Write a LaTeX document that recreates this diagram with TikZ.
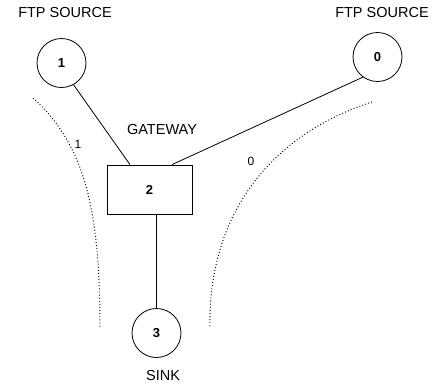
\documentclass[tikz,border=0pt]{standalone}
\usepackage{fontspec}
\setmainfont{Liberation Sans}
\begin{document}
\begin{tikzpicture}[x=1pt,y=-1pt,
  host/.style={draw,circle,line width=0.8pt,minimum size=49pt,inner sep=0pt,font=\fontsize{13}{13}\selectfont\bfseries},
  gw/.style={draw,rectangle,line width=0.8pt,minimum width=85pt,minimum height=49pt,inner sep=0pt,font=\fontsize{13}{13}\selectfont\bfseries},
  lbl/.style={inner sep=0pt,font=\fontsize{14.5}{14.5}\selectfont},
  flowlbl/.style={inner sep=0pt,font=\fontsize{12}{12}\selectfont},
  link/.style={line width=0.8pt},
  flow/.style={line width=1pt,dash pattern=on 0.9pt off 2.2pt}]
\useasboundingbox (0,0) rectangle (440,389);
\node[host] (n1) at (61.5,63) {1};
\node[host] (n0) at (377.5,57) {0};
\node[gw] (b) at (149.5,189.5) {2};
\node[host] (n3) at (156.5,333) {3};
\node[lbl] (l1) at (65,13) {FTP SOURCE};
\node[lbl] (l0) at (382,13) {FTP SOURCE};
\node[lbl] (lg) at (162,130) {GATEWAY};
\node[lbl] (ls) at (163,375.5) {SINK};
\node[flowlbl] (f1) at (78,144) {1};
\node[flowlbl] (f0) at (251,161) {0};
\draw[link] (n1.299) -- ([xshift=-19.5pt]b.north);
\draw[link] (n0.234) -- ([xshift=22.5pt]b.north);
\draw[link] (b.south -| n3.north) -- (n3.north);
\coordinate (c1s) at (33,98);
\coordinate (c1e) at (100,328);
\coordinate (c0s) at (372,102);
\coordinate (c0e) at (210,327);
\draw[flow] (c1s) .. controls (85,145) and (100,210) .. (c1e);
\draw[flow] (c0s) .. controls (270,135) and (208,215) .. (c0e);
\end{tikzpicture}
\end{document}
